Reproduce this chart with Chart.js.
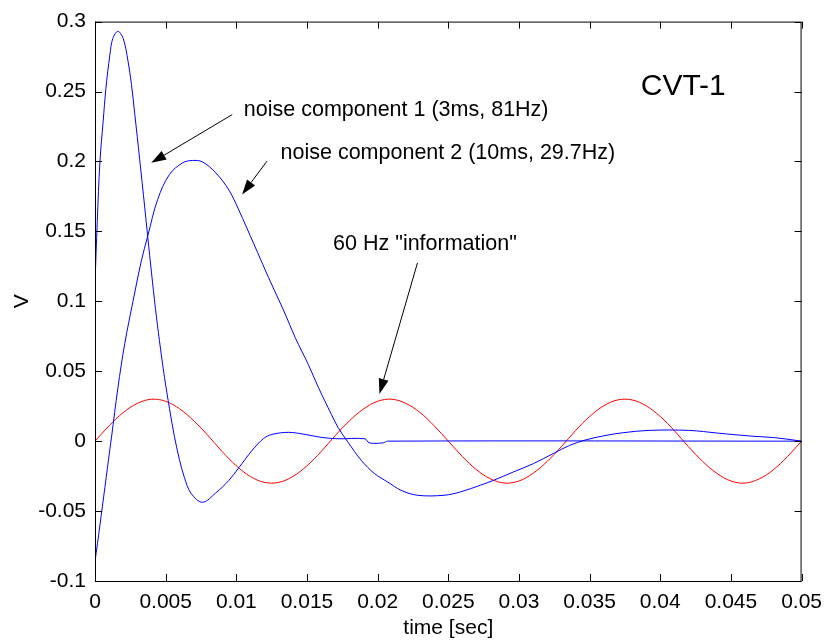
<!DOCTYPE html>
<html>
<head>
<meta charset="utf-8">
<title>CVT-1 transient</title>
<script src="https://cdn.jsdelivr.net/npm/chart.js@4.4.1/dist/chart.umd.min.js"></script>
<style>
  html, body { margin: 0; padding: 0; background: #fff; }
  #wrap { width: 831px; height: 641px; }
</style>
</head>
<body>
<div id="wrap"><canvas id="cvt" width="831" height="641"></canvas></div>
<script>
// axis ticks
const xTicks = [0, 0.005, 0.01, 0.015, 0.02, 0.025, 0.03, 0.035, 0.04, 0.045, 0.05];
const xTickLabels = ['0', '0.005', '0.01', '0.015', '0.02', '0.025', '0.03', '0.035', '0.04', '0.045', '0.05'];
const yTicks = [-0.1, -0.05, 0, 0.05, 0.1, 0.15, 0.2, 0.25, 0.3];
const yTickLabels = ['-0.1', '-0.05', '0', '0.05', '0.1', '0.15', '0.2', '0.25', '0.3'];

// noise component 1 (3ms, 81Hz)
const noise1T = [0, 0.00016, 0.00035, 0.00058, 0.00077, 0.00105, 0.00126, 0.00162, 0.00199, 0.00234,
  0.00258, 0.00281, 0.00316, 0.00351, 0.00374, 0.004, 0.00428, 0.00456, 0.00492, 0.00527,
  0.00562, 0.00597, 0.00632, 0.00679, 0.0076, 0.00855, 0.00948, 0.01018, 0.01112, 0.01194,
  0.01252, 0.01369, 0.01487, 0.01601, 0.0172, 0.0191, 0.0194, 0.0204, 0.0207, 0.05];
const noise1V = [0.113, 0.157, 0.200, 0.229, 0.252, 0.276, 0.288, 0.293, 0.2881, 0.2715,
  0.2551, 0.2344, 0.2016, 0.1681, 0.1453, 0.1203, 0.0947, 0.0718, 0.0455, 0.0234,
  0.0034, -0.013, -0.0258, -0.0372, -0.0437, -0.037, -0.028, -0.019, -0.0066, 0.002,
  0.0048, 0.0063, 0.0048, 0.0027, 0.0017, 0.0017, -0.0012, -0.0012, 0, 0];

// noise component 2 (10ms, 29.7Hz)
const noise2T = [0, 0.00035, 0.0007, 0.00105, 0.00117, 0.00162, 0.00211, 0.00269, 0.00328, 0.00374,
  0.00444, 0.00527, 0.0062, 0.0069, 0.0076, 0.00855, 0.00948, 0.01018, 0.01124, 0.01229,
  0.01346, 0.01416, 0.0151, 0.0158, 0.01673, 0.0172, 0.0179, 0.01884, 0.01978,
  0.02071, 0.02165, 0.02282, 0.0247, 0.02586, 0.02727, 0.02821, 0.02961, 0.03102, 0.03242,
  0.03359, 0.03476, 0.03616, 0.03734, 0.0392, 0.04201, 0.04412, 0.04529, 0.0467, 0.0481, 0.05];
const noise2V = [-0.0862, -0.060, -0.033, -0.006, 0.003, 0.038, 0.070, 0.100, 0.1289, 0.147,
  0.173, 0.1907, 0.199, 0.2007, 0.1997, 0.1918, 0.1795, 0.1652, 0.141, 0.1168,
  0.0909, 0.0742, 0.0547, 0.0386, 0.0191, 0.0098, -0.0007, -0.0137, -0.0232,
  -0.0292, -0.0351, -0.0387, -0.0387, -0.0363, -0.0315, -0.028, -0.022, -0.0161, -0.0089,
  -0.003, 0.001, 0.0041, 0.006, 0.0077, 0.0077, 0.0057, 0.0046, 0.0034, 0.0025, 0.0];

// 60 Hz "information"
const infoT = [0, 0.001, 0.002, 0.003, 0.004, 0.005, 0.006, 0.007, 0.008, 0.009,
  0.010, 0.011, 0.012, 0.013, 0.014, 0.015, 0.016, 0.017, 0.018, 0.019,
  0.020, 0.021, 0.022, 0.023, 0.024, 0.025, 0.026, 0.027, 0.028, 0.029,
  0.030, 0.031, 0.032, 0.033, 0.034, 0.035, 0.036, 0.037, 0.038, 0.039,
  0.040, 0.041, 0.042, 0.043, 0.044, 0.045, 0.046, 0.047, 0.048, 0.049, 0.050];
const infoV = [0, 0.011, 0.0205, 0.027, 0.030, 0.0285, 0.023, 0.0145, 0.004, -0.0075,
  -0.0176, -0.0253, -0.0295, -0.0295, -0.0253, -0.0176, -0.0075, 0.004, 0.0145, 0.023,
  0.0285, 0.030, 0.027, 0.0205, 0.011, 0, -0.011, -0.0205, -0.027, -0.030,
  -0.0285, -0.023, -0.0145, -0.004, 0.0075, 0.0176, 0.0253, 0.0295, 0.0295, 0.0253,
  0.0176, 0.0075, -0.004, -0.0145, -0.023, -0.0285, -0.030, -0.027, -0.0205, -0.011, 0];

const FONT = "'Liberation Sans', Arial, Helvetica, sans-serif";

// text labels with arrows, in data units
const notes = [
  { text: 'noise component 1 (3ms, 81Hz)', at: [0.01053, 0.2323], from: [0.00971, 0.2335], to: [0.00398, 0.199] },
  { text: 'noise component 2 (10ms, 29.7Hz)', at: [0.01313, 0.2016], from: [0.01217, 0.2002], to: [0.01041, 0.1764] },
  { text: '60 Hz "information"', at: [0.01685, 0.1367], from: [0.02282, 0.1275], to: [0.02013, 0.0338] }
];

const toPoints = (ts, vs) => ts.map((t, i) => ({ x: t, y: vs[i] }));

function drawArrow(ctx, x0, y0, x1, y1) {
  const ang = Math.atan2(y1 - y0, x1 - x0);
  const len = 15, half = 5;
  const bx = x1 - len * Math.cos(ang), by = y1 - len * Math.sin(ang);
  ctx.beginPath();
  ctx.moveTo(x0, y0);
  ctx.lineTo(bx, by);
  ctx.stroke();
  ctx.beginPath();
  ctx.moveTo(x1, y1);
  ctx.lineTo(bx + half * Math.sin(ang), by - half * Math.cos(ang));
  ctx.lineTo(bx - half * Math.sin(ang), by + half * Math.cos(ang));
  ctx.closePath();
  ctx.fill();
}

// box, inward tick marks, axis titles and annotations
const matlabAxes = {
  id: 'matlabAxes',
  afterDraw(chart) {
    const { ctx, chartArea: a, scales: { x, y } } = chart;
    const tick = 7;
    ctx.save();
    ctx.strokeStyle = '#000';
    ctx.fillStyle = '#000';
    ctx.lineWidth = 1;
    ctx.strokeRect(a.left + 0.5, a.top + 0.5, a.right - a.left - 1, a.bottom - a.top);

    ctx.beginPath();
    xTicks.forEach(v => {
      const px = Math.round(x.getPixelForValue(v)) + 0.5;
      ctx.moveTo(px, a.bottom); ctx.lineTo(px, a.bottom - tick);
      ctx.moveTo(px, a.top); ctx.lineTo(px, a.top + tick);
    });
    yTicks.forEach(v => {
      const py = Math.round(y.getPixelForValue(v)) + 0.5;
      ctx.moveTo(a.left, py); ctx.lineTo(a.left + tick, py);
      ctx.moveTo(a.right, py); ctx.lineTo(a.right - tick, py);
    });
    ctx.stroke();

    // axis titles
    ctx.font = '21px ' + FONT;
    ctx.textAlign = 'center';
    ctx.textBaseline = 'alphabetic';
    ctx.fillText('time [sec]', (a.left + a.right) / 2, 634);
    ctx.save();
    ctx.translate(28, (a.top + a.bottom) / 2);
    ctx.rotate(-Math.PI / 2);
    ctx.fillText('V', 0, 0);
    ctx.restore();

    // annotations
    ctx.font = '21.5px ' + FONT;
    ctx.textAlign = 'left';
    notes.forEach(n => {
      ctx.fillText(n.text, x.getPixelForValue(n.at[0]), y.getPixelForValue(n.at[1]));
      drawArrow(ctx,
        x.getPixelForValue(n.from[0]), y.getPixelForValue(n.from[1]),
        x.getPixelForValue(n.to[0]), y.getPixelForValue(n.to[1]));
    });

    ctx.font = '30px ' + FONT;
    ctx.fillText('CVT-1', x.getPixelForValue(0.03862), y.getPixelForValue(0.2472));
    ctx.restore();
  }
};

Chart.defaults.font.family = FONT;
Chart.defaults.color = '#000';

new Chart(document.getElementById('cvt'), {
  type: 'line',
  data: {
    datasets: [
      { label: 'noise component 1', data: toPoints(noise1T, noise1V), borderColor: '#0000ff' },
      { label: 'noise component 2', data: toPoints(noise2T, noise2V), borderColor: '#0000ff' },
      { label: '60 Hz information', data: toPoints(infoT, infoV), borderColor: '#ff0000' }
    ]
  },
  options: {
    responsive: false,
    animation: false,
    devicePixelRatio: 1,
    layout: { padding: { left: 0, top: 20, right: 24, bottom: 0 } },
    elements: {
      point: { radius: 0 },
      line: { borderWidth: 1, tension: 0.35, fill: false }
    },
    scales: {
      x: {
        type: 'linear',
        min: 0,
        max: 0.05,
        grid: { display: false, drawTicks: false },
        border: { display: false },
        afterBuildTicks: s => { s.ticks = xTicks.map(v => ({ value: v })); },
        afterFit: s => { s.height = 60; },
        ticks: {
          font: { size: 21 },
          padding: 9,
          maxRotation: 0,
          autoSkip: false,
          callback: (v, i) => xTickLabels[i]
        }
      },
      y: {
        type: 'linear',
        min: -0.1,
        max: 0.3,
        grid: { display: false, drawTicks: false },
        border: { display: false },
        afterBuildTicks: s => { s.ticks = yTicks.map(v => ({ value: v })); },
        afterFit: s => { s.width = 95; },
        ticks: {
          font: { size: 21 },
          padding: 9,
          autoSkip: false,
          callback: (v, i) => yTickLabels[i]
        }
      }
    },
    plugins: {
      legend: { display: false },
      tooltip: { enabled: false }
    }
  },
  plugins: [matlabAxes]
});
</script>
</body>
</html>
